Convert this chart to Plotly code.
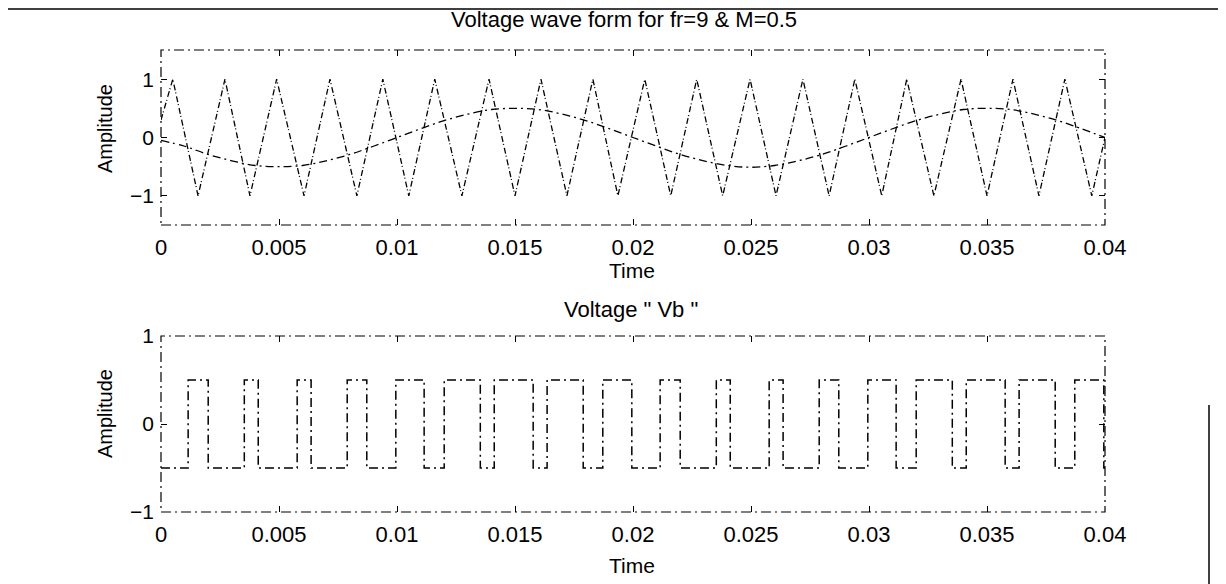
import plotly.graph_objects as go
from plotly.subplots import make_subplots

# ---- carrier (triangle) vertices ----
carrier_peak_t = [0.0005, 0.00271, 0.0049, 0.00716, 0.0094, 0.0116, 0.0139, 0.0161, 0.0183,
                  0.0205, 0.0227, 0.02496, 0.0272, 0.0294, 0.0316, 0.0339, 0.0361, 0.0383]
carrier_trough_t = [0.00157, 0.00377, 0.00606, 0.0083, 0.0105, 0.01275, 0.0150, 0.0172, 0.01936,
                    0.0216, 0.0238, 0.02606, 0.02831, 0.03054, 0.03275, 0.0350, 0.0372, 0.03944]
carrier_start = 0.3
carrier_end = 0.0

# ---- reference sine, sampled every 1 ms ----
ref_t = [i / 1000 for i in range(41)]
ref_v = [-0.05, -0.15, -0.29, -0.40, -0.48, -0.50, -0.48, -0.40, -0.29, -0.15,
         0.00, 0.15, 0.29, 0.40, 0.48, 0.50, 0.48, 0.40, 0.29, 0.15,
         0.00, -0.15, -0.29, -0.40, -0.48, -0.51, -0.48, -0.40, -0.29, -0.15,
         0.00, 0.15, 0.29, 0.40, 0.48, 0.50, 0.48, 0.40, 0.29, 0.15, 0.00]

# ---- Vb switching instants (s) ----
vb_edges = [0.00115, 0.00200, 0.00353, 0.00412, 0.00577, 0.00636, 0.00789, 0.00872,
            0.00995, 0.01115, 0.01200, 0.01353, 0.01412, 0.01577, 0.01636, 0.01789,
            0.01872, 0.01995, 0.02115, 0.02200, 0.02353, 0.02412, 0.02577, 0.02636,
            0.02789, 0.02872, 0.02995, 0.03115, 0.03200, 0.03353, 0.03412, 0.03577,
            0.03636, 0.03789, 0.03872, 0.03995]
vb_low, vb_high = -0.5, 0.5

x_ticks = [0, 0.005, 0.01, 0.015, 0.02, 0.025, 0.03, 0.035, 0.04]
x_labels = ['0', '0.005', '0.01', '0.015', '0.02', '0.025', '0.03', '0.035', '0.04']

# build the line data
car_t = [0.0]
car_v = [carrier_start]
for p, q in zip(carrier_peak_t, carrier_trough_t):
    car_t += [p, q]
    car_v += [1.0, -1.0]
car_t.append(0.04)
car_v.append(carrier_end)

vb_t = [0.0]
vb_v = [vb_low]
level = vb_low
for e in vb_edges:
    level = vb_high if level == vb_low else vb_low
    vb_t.append(e)
    vb_v.append(level)
vb_t.append(0.04)
vb_v.append(level)

W, H = 1226, 584
OFF = 8  # page body margin in front of the figure
FAM = 'Liberation Sans, Arial, sans-serif'


def fnt(size):
    return dict(family=FAM, size=size, color='black')


# page pixel -> paper coordinate
def px(x):
    return (x - OFF) / W


def py(y):
    return 1 - (y - OFF) / H


fig = make_subplots(rows=2, cols=1)

fig.add_trace(go.Scatter(x=car_t, y=car_v, mode='lines',
                         line=dict(color='black', width=1.3, dash='6px,2px,1px,3px')),
              row=1, col=1)
fig.add_trace(go.Scatter(x=ref_t, y=ref_v, mode='lines', line_shape='spline',
                         line=dict(color='black', width=1.3, dash='8px,4px,2px,4px')),
              row=1, col=1)
fig.add_trace(go.Scatter(x=vb_t, y=vb_v, mode='lines', line_shape='hv',
                         line=dict(color='black', width=1.5, dash='9px,4px,2px,4px')),
              row=2, col=1)

axis_common = dict(ticks='inside', ticklen=6, tickcolor='black', tickwidth=1,
                   showgrid=False, zeroline=False, showline=False, mirror='ticks',
                   automargin=False)

fig.update_xaxes(range=[0, 0.04], tickvals=x_ticks, ticktext=x_labels,
                 tickfont=fnt(22), ticklabelstandoff=7,
                 domain=[px(161), px(1105)], **axis_common)

fig.update_yaxes(tickvals=[-1, 0, 1], tickfont=fnt(21), ticklabelstandoff=6, **axis_common)
fig.update_yaxes(range=[-1.5, 1.5], domain=[py(225), py(50)], row=1, col=1)
fig.update_yaxes(range=[-1, 1], domain=[py(512), py(336)], row=2, col=1)

frame = dict(color='black', width=1.2, dash='10px,4px,2px,4px')
shapes = [
    dict(type='rect', xref='x domain', yref='y domain', x0=0, x1=1, y0=0, y1=1, line=frame),
    dict(type='rect', xref='x2 domain', yref='y2 domain', x0=0, x1=1, y0=0, y1=1, line=frame),
    dict(type='line', xref='paper', yref='paper', x0=0, x1=1, y0=py(9), y1=py(9),
         line=dict(color='black', width=1.5)),
    dict(type='line', xref='paper', yref='paper', x0=px(1209), x1=px(1209), y0=py(584),
         y1=py(405), line=dict(color='black', width=1.5)),
]


def label(text, x, y, size, angle=0):
    return dict(text=text, x=px(x), y=py(y), xref='paper', yref='paper', showarrow=False,
                font=fnt(size), textangle=angle, xanchor='center', yanchor='middle')


annotations = [
    label('Voltage wave form for fr=9 & M=0.5', 624, 20, 22),
    label('Time', 632, 270, 21),
    label('Voltage " Vb "', 631, 309, 22),
    label('Time', 632, 565, 21),
    label('Amplitude', 105, 129, 20, -90),
    label('Amplitude', 105, 414, 20, -90),
]

fig.update_layout(
    template='none',
    width=W, height=H,
    margin=dict(l=0, r=0, t=0, b=0),
    paper_bgcolor='white', plot_bgcolor='white',
    showlegend=False,
    shapes=shapes,
    annotations=annotations,
    font=fnt(20),
)

fig.write_html("out.html")
